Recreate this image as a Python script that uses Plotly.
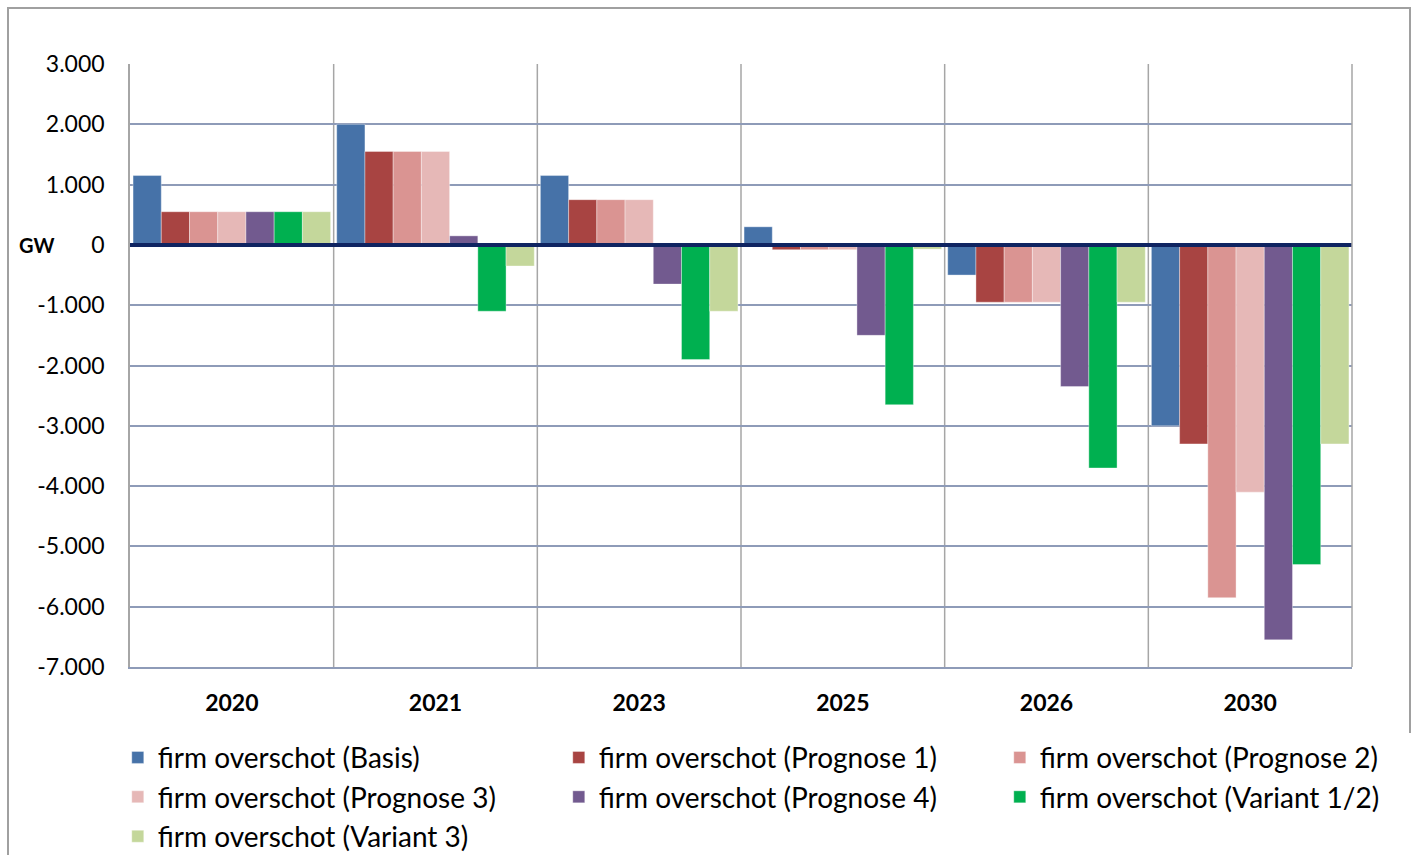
import plotly.graph_objects as go

categories = ["2020", "2021", "2023", "2025", "2026", "2030"]
series_names = [
    "firm overschot (Basis)",
    "firm overschot (Prognose 1)",
    "firm overschot (Prognose 2)",
    "firm overschot (Prognose 3)",
    "firm overschot (Prognose 4)",
    "firm overschot (Variant 1/2)",
    "firm overschot (Variant 3)",
]
basis = [1150, 2000, 1150, 300, -500, -3000]
prognose1 = [550, 1550, 750, -80, -950, -3300]
prognose2 = [550, 1550, 750, -80, -950, -5850]
prognose3 = [550, 1550, 750, -80, -950, -4100]
prognose4 = [550, 150, -650, -1500, -2350, -6550]
variant12 = [550, -1100, -1900, -2650, -3700, -5300]
variant3 = [550, -350, -1100, -70, -950, -3300]
series_values = [basis, prognose1, prognose2, prognose3, prognose4, variant12, variant3]
colors = ["#4672A8", "#A84442", "#DA9492", "#E6B8B7", "#725A8F", "#00B050", "#C4D79B"]

tick_vals = [3000, 2000, 1000, 0, -1000, -2000, -3000, -4000, -5000, -6000, -7000]
tick_text = ["3.000", "2.000", "1.000", "0", "-1.000", "-2.000", "-3.000",
             "-4.000", "-5.000", "-6.000", "-7.000"]

fig = go.Figure()
for name, vals, col in zip(series_names, series_values, colors):
    fig.add_trace(go.Bar(
        name=name, x=categories, y=vals,
        marker=dict(color=col, line=dict(width=0.6, color="rgba(255,255,255,0.6)")),
    ))

W, H = 1412, 855
ml, mr, mt, mb = 130, 60, 64, 188
pw = W - ml - mr
ph = H - mt - mb

shapes = []
# vertical category separators
for i in range(1, len(categories)):
    shapes.append(dict(type="line", xref="x", yref="paper", x0=i - 0.5, x1=i - 0.5,
                       y0=0, y1=1, line=dict(color="#A6A6A6", width=1.5), layer="below"))
# zero line
shapes.append(dict(type="line", xref="paper", yref="y", x0=0, x1=1, y0=0, y1=0,
                   line=dict(color="#0F2461", width=4), layer="above"))
# outer border
shapes.append(dict(type="rect", xref="paper", yref="paper",
                   x0=(8 - ml) / pw, x1=(1410 - ml) / pw,
                   y0=(H - mb - 880) / ph, y1=(H - mb - 8) / ph,
                   line=dict(color="#A0A0A0", width=2), fillcolor="rgba(0,0,0,0)", layer="below"))
# right border of plot area
shapes.append(dict(type="line", xref="paper", yref="paper", x0=1, x1=1, y0=0, y1=1,
                   line=dict(color="#A6A6A6", width=1.5)))

fig.update_layout(
    width=W, height=H,
    margin=dict(l=ml, r=mr, t=mt, b=mb, autoexpand=False),
    paper_bgcolor="white", plot_bgcolor="white",
    barmode="group", bargap=0.03, bargroupgap=0,
    font=dict(family="Lato, Open Sans, sans-serif", color="#000000", size=20),
    showlegend=True,
    legend=dict(orientation="h", x=-0.01, y=-0.109, xanchor="left", yanchor="top",
                entrywidth=396, entrywidthmode="pixels",
                font=dict(size=28, family="Lato, sans-serif"), traceorder="normal",
                itemwidth=30, tracegroupgap=0),
    shapes=shapes,
    annotations=[dict(text="<b>GW</b>", xref="paper", yref="y", x=(36 - ml) / pw, y=0,
                      xanchor="center", yanchor="middle", showarrow=False,
                      font=dict(size=20, family="Lato, sans-serif"))],
)
fig.update_xaxes(
    type="category", showgrid=False, zeroline=False,
    showline=True, linecolor="#8E9BB8", linewidth=1.5, mirror=False,
    tickfont=dict(size=23, family="Lato, sans-serif", weight="bold"),
    ticks="outside", ticklen=0, ticklabelstandoff=15,
    range=[-0.5, len(categories) - 0.5],
)
fig.update_yaxes(
    range=[-7000, 3000], tickvals=tick_vals, ticktext=tick_text,
    showgrid=True, gridcolor="#8E9BB8", gridwidth=1.5,
    zeroline=False, showline=True, linecolor="#A6A6A6", linewidth=1.5, mirror=False,
    tickfont=dict(size=23, family="Lato, sans-serif"),
    ticks="outside", ticklen=0, ticklabelstandoff=19,
)

fig.write_html("out.html")
